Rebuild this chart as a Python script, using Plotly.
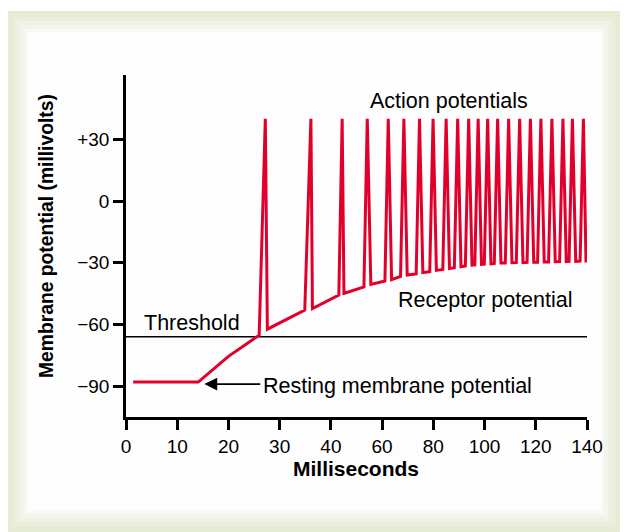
import plotly.graph_objects as go

# ---------------- data (ms, mV) ----------------
tick_ms = [0, 10, 20, 30, 40, 60, 80, 100, 120, 140]
tick_labels = ["0", "10", "20", "30", "40", "60", "80", "100", "120", "140"]
y_tick_vals = [30, 0, -30, -60, -90]
y_tick_labels = ["+30", "0", "\u221230", "\u221260", "\u221290"]

# resting potential + generator ramp up to threshold
ramp_ms = [1.4, 14.1, 20.0, 26.0]
ramp_mv = [-88, -88, -75.5, -65.2]

# action potentials: start of rise, peak, end of fall
spike_pre_ms = [26.0, 34.9, 43.1, 52.9, 61.1, 67.2, 73.3, 78.6, 83.7, 88.2, 92.5,
                96.2, 99.9, 103.8, 108.1, 112.4, 116.6, 120.7, 125.0, 129.3, 133.0, 137.3]
spike_pre_mv = [-65.2, -53.0, -45.7, -41.7, -38.9, -36.7, -35.4, -34.3, -33.3, -32.4, -31.6,
                -31.0, -30.7, -30.3, -30.1, -29.9, -29.8, -29.7, -29.6, -29.4, -29.3, -29.2]
spike_peak_ms = [27.2, 36.1, 44.4, 54.2, 62.4, 68.5, 74.6, 79.9, 85.0, 89.5, 93.8,
                 97.5, 101.2, 105.1, 109.4, 113.7, 117.9, 122.0, 126.3, 130.6, 134.3, 138.6]
spike_peak_mv = [40] * 22
spike_post_ms = [27.6, 36.4, 45.1, 55.6, 63.7, 69.8, 75.9, 81.2, 86.3, 90.8, 95.1,
                 98.8, 102.5, 106.4, 110.7, 115.0, 119.2, 123.3, 127.6, 131.9, 135.6, 139.6]
spike_post_mv = [-62.3, -52.3, -44.9, -40.5, -38.2, -36.0, -34.8, -33.7, -32.8, -31.9, -31.1,
                 -30.8, -30.5, -30.1, -30.0, -29.9, -29.7, -29.6, -29.5, -29.4, -29.3, -29.2]
end_ms, end_mv = 140.0, -29.2

threshold_mv = -66.0


def tx(ms):
    """piecewise axis scale: 0-40 ms in 10 ms steps, 40-140 ms in 20 ms steps"""
    return ms / 10.0 if ms <= 40 else 4 + (ms - 40) / 20.0


xs, ys = list(ramp_ms), list(ramp_mv)
for i in range(len(spike_peak_ms)):
    if i > 0:
        xs.append(spike_pre_ms[i]); ys.append(spike_pre_mv[i])
    xs.append(spike_peak_ms[i]); ys.append(spike_peak_mv[i])
    xs.append(spike_post_ms[i]); ys.append(spike_post_mv[i])
xs.append(end_ms); ys.append(end_mv)

RED = "#e1002b"
FONT = "Liberation Sans, Arial, Helvetica, sans-serif"

fig = go.Figure()
fig.add_trace(go.Scatter(x=[tx(0), tx(140)], y=[threshold_mv, threshold_mv], mode="lines",
                         line=dict(color="black", width=1.5), hoverinfo="skip"))
fig.add_trace(go.Scatter(x=[tx(v) for v in xs], y=ys, mode="lines",
                         line=dict(color=RED, width=3, shape="linear"), hoverinfo="skip"))

# page is offset by the 8px body margin
W, H = 620, 524
L, R, T, B = 118, 41, 67, 115
pw, ph = W - L - R, H - T - B
PL, PB = 126, 417  # plot-area left / bottom in page pixels


def px(x):
    return (x - PL) / pw


def py(y):
    return (PB - y) / ph


shapes = []
shapes.append(dict(type="rect", xref="paper", yref="paper", x0=px(7), x1=px(622), y0=py(540), y1=py(11),
                   fillcolor="#e6ebd4", line=dict(width=0), layer="below"))
for inset, col in [(6, "#eaeedb"), (10, "#eef1e3"), (14, "#f3f5ec"), (18, "#f8f9f4"), (21, "#fcfdfc")]:
    shapes.append(dict(type="rect", xref="paper", yref="paper",
                       x0=px(7 + inset), x1=px(622 - inset), y0=py(532 - inset), y1=py(11 + inset),
                       fillcolor=col, line=dict(width=0), layer="below"))

AF = dict(size=21.5, color="black", family=FONT)
annotations = [
    dict(text="Action potentials", x=tx(86.3), y=48.5, xref="x", yref="y", showarrow=False,
         font=AF, xanchor="center", yanchor="middle"),
    dict(text="Receptor potential", x=tx(65.5), y=-48.3, xref="x", yref="y", showarrow=False,
         font=AF, xanchor="left", yanchor="middle"),
    dict(text="Threshold", x=tx(3.2), y=-59.5, xref="x", yref="y", showarrow=False,
         font=AF, xanchor="left", yanchor="middle"),
    dict(text="Resting membrane potential", x=tx(26.4), y=-90.0, xref="x", yref="y", showarrow=False,
         font=AF, xanchor="left", yanchor="middle"),
    dict(text="", x=tx(15.3), y=-89, ax=tx(26.5), ay=-89, xref="x", yref="y", axref="x", ayref="y",
         showarrow=True, arrowhead=2, arrowsize=1.6, arrowwidth=1.6, arrowcolor="black"),
    dict(text="<b>Milliseconds</b>", x=px(356), y=py(468), xref="paper", yref="paper", showarrow=False,
         font=dict(size=21, color="black", family=FONT), xanchor="center", yanchor="middle"),
    dict(text="<b>Membrane potential (millivolts)</b>", x=px(47), y=py(236), xref="paper", yref="paper",
         showarrow=False, textangle=-90,
         font=dict(size=19.3, color="black", family=FONT), xanchor="center", yanchor="middle"),
]

fig.update_layout(
    width=W, height=H, margin=dict(l=L, r=R, t=T, b=B),
    paper_bgcolor="white", plot_bgcolor="rgba(0,0,0,0)",
    showlegend=False, shapes=shapes, annotations=annotations,
    font=dict(family=FONT, color="black"),
    xaxis=dict(range=[0, 9], tickmode="array", tickvals=[tx(v) for v in tick_ms], ticktext=tick_labels,
               showgrid=False, zeroline=False, showline=True, linecolor="black", linewidth=2.5,
               ticks="outside", ticklen=10, tickwidth=2.5, tickcolor="black",
               tickfont=dict(size=19, family=FONT, color="black"), fixedrange=True),
    yaxis=dict(range=[-105, 61.3], tickmode="array", tickvals=y_tick_vals, ticktext=y_tick_labels,
               showgrid=False, zeroline=False, showline=True, linecolor="black", linewidth=2.5,
               ticks="outside", ticklen=10, tickwidth=2.5, tickcolor="black",
               tickfont=dict(size=19, family=FONT, color="black"), fixedrange=True),
)

fig.write_html("out.html")
